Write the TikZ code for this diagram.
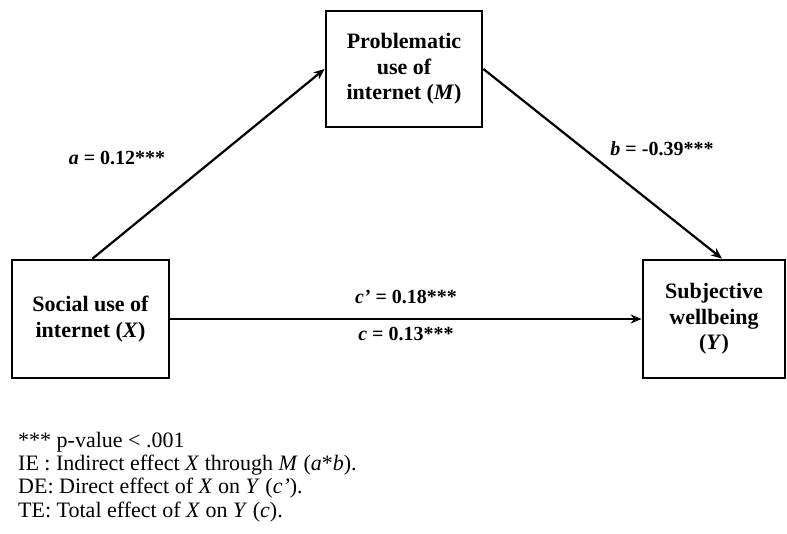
\documentclass[tikz,border=0pt]{standalone}
\usepackage{fontspec}
\setmainfont{Liberation Serif}
\usetikzlibrary{arrows.meta}
\begin{document}
\begin{tikzpicture}[x=1pt,y=-1pt,
  box/.style={draw,line width=2.8pt,minimum width=#1,inner sep=0pt,align=center,font=\fontsize{22}{25.5}\selectfont\bfseries},
  conn/.style={line width=2.2pt,-{Stealth[length=11pt,width=9pt]}},
  lab/.style={font=\fontsize{20}{24}\selectfont\bfseries,inner sep=0pt},
  note/.style={anchor=base west,font=\fontsize{22}{24}\selectfont,inner sep=0pt}]
\useasboundingbox (0,0) rectangle (787,534);
\node[box=156pt,minimum height=116pt] (M) at (404,69) {Problematic\\use of\\internet (\textit{M})};
\node[box=157pt,minimum height=118pt] (X) at (90.5,319) {Social use of\\internet (\textit{X})};
\node[box=142pt,minimum height=118pt] (Y) at (714,319) {Subjective\\wellbeing\\(\textit{Y})};
\draw[conn] ([xshift=2pt]X.north) -- (M.west);
\draw[conn] (M.east) -- ([xshift=8pt]Y.north);
\draw[conn] (X.east) -- (Y.west);
\node[lab] (la) at (117,158) {\textit{a} = 0.12***};
\node[lab] (lb) at (662,149) {\textit{b} = -0.39***};
\node[lab] (lc1) at (406,297) {\textit{c'} = 0.18***};
\node[lab] (lc2) at (406,334) {\textit{c} = 0.13***};
\node[note] (n1) at (18,447) {*** p-value < .001};
\node[note] (n2) at (18,470) {IE : Indirect effect \textit{X} through \textit{M} (\textit{a}*\textit{b}).};
\node[note] (n3) at (18,493.5) {DE: Direct effect of \textit{X} on \textit{Y} (\textit{c'}).};
\node[note] (n4) at (18,517) {TE: Total effect of \textit{X} on \textit{Y} (\textit{c}).};
\end{tikzpicture}
\end{document}
